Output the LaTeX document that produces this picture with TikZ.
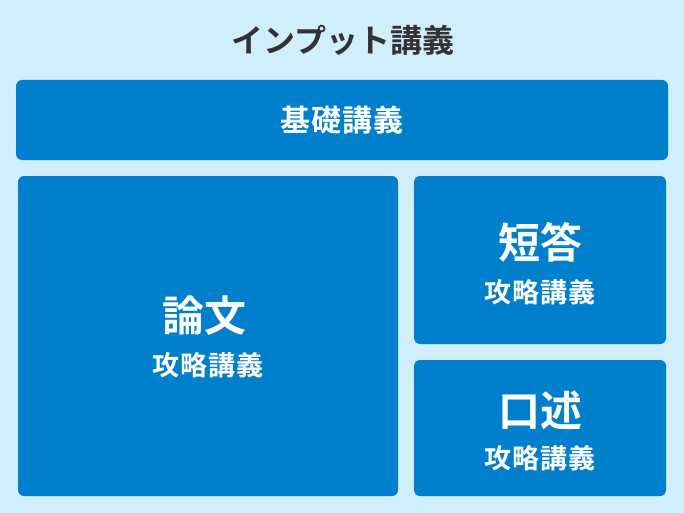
\documentclass[tikz,border=0pt]{standalone}
\usepackage{fontspec}
\usepackage{xcolor}
\usepackage{tikz}
\usetikzlibrary{positioning}
\newfontfamily\jpbold{Noto Sans CJK JP Bold}
\newfontfamily\jpspaced{Noto Sans CJK JP Bold}[LetterSpace=4]
\definecolor{skybg}{HTML}{D1EEFC}
\definecolor{lecblue}{HTML}{0080CC}
\definecolor{titlegray}{HTML}{333333}

\begin{document}
\begin{tikzpicture}[
  x=1pt, y=-1pt,
  box/.style={rectangle, fill=lecblue, rounded corners=6pt, inner sep=0pt},
  head/.style={text=white, font=\jpbold\fontsize{42}{46}\selectfont, inner sep=0pt},
  sub/.style={text=white, font=\jpspaced\fontsize{27}{31}\selectfont, inner sep=0pt}
]
  % background and frame
  \fill[skybg] (0,0) rectangle (684,513);
  \useasboundingbox (0,0) rectangle (684,513);

  % title
  \node[text=titlegray, font=\jpbold\fontsize{32}{36}\selectfont, inner sep=0pt]
    (title) at (343,40) {インプット講義};

  % basic lecture bar
  \node[box, minimum width=652pt, minimum height=80pt] (kiso) at (342,120) {};
  \node[text=white, font=\jpspaced\fontsize{30}{34}\selectfont, inner sep=0pt]
    (kisoT) at (kiso.center) {基礎講義};

  % essay block (left)
  \node[box, minimum width=380pt, minimum height=320pt] (ronbun) at (208,336) {};
  \node[head] (ronbunT) at ([xshift=-4pt,yshift=20pt]ronbun.center) {論文};
  \node[sub] (ronbunS) at ([yshift=-29pt]ronbun.center) {攻略講義};

  % short answer block (right top)
  \node[box, minimum width=252pt, minimum height=168pt] (tanto) at (540,260) {};
  \node[head] (tantoT) at ([yshift=18pt]tanto.center) {短答};
  \node[sub] (tantoS) at ([yshift=-32pt]tanto.center) {攻略講義};

  % oral block (right bottom)
  \node[box, minimum width=252pt, minimum height=136pt] (kojutsu) at (540,428) {};
  \node[head] (kojutsuT) at ([yshift=18pt]kojutsu.center) {口述};
  \node[sub] (kojutsuS) at ([yshift=-30pt]kojutsu.center) {攻略講義};
\end{tikzpicture}
\end{document}
